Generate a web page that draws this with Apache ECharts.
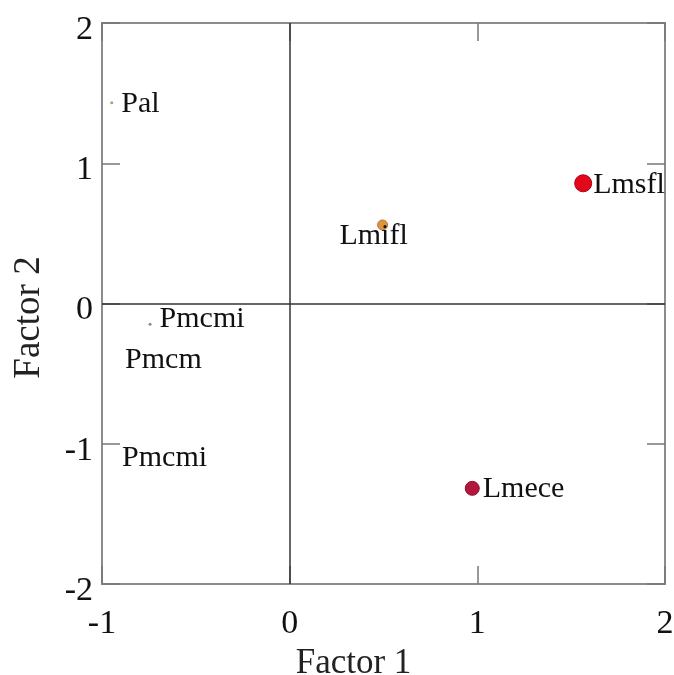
<!DOCTYPE html>
<html>
<head>
<meta charset="utf-8">
<script src="https://cdn.jsdelivr.net/npm/echarts@6/dist/echarts.min.js"></script>
<style>html,body{margin:0;padding:0;background:#fff;}#c{width:674px;height:675px;}</style>
</head>
<body>
<div id="c"></div>
<script>
var pointNames = ['Pal', 'Pmcmi', 'Pmcm', 'Pmcmi', 'Lmifl', 'Lmsfl', 'Lmece'];
var factor1 = [-0.948, -0.744, -0.877, -0.893, 0.495, 1.564, 0.973];
var factor2 = [1.432, -0.148, -0.403, -1.102, 0.56, 0.857, -1.318];
var xTicks = [-1, 0, 1, 2];
var yTicks = [-2, -1, 0, 1, 2];

var styles = [
  {size: 3, color: '#a3a36a', border: '#a3a36a', pos: 'right', dist: 8, off: [0, 1]},
  {size: 3, color: '#888888', border: '#888888', pos: 'right', dist: 8, off: [0, -5]},
  {size: 0, color: 'transparent', border: 'transparent', pos: 'right', dist: 0, off: [0, 0]},
  {size: 0, color: 'transparent', border: 'transparent', pos: 'right', dist: 0, off: [0, 0]},
  {size: 10, color: '#dc9442', border: '#b8752e', pos: 'inside', dist: 0, off: [-9, 11]},
  {size: 17, color: '#e2081a', border: '#b00012', pos: 'right', dist: 1, off: [0, 2]},
  {size: 14, color: '#b5163e', border: '#8e0f2e', pos: 'right', dist: 3, off: [0, 1]}
];

var data = pointNames.map(function (n, i) {
  var s = styles[i];
  return {
    name: n,
    value: [factor1[i], factor2[i]],
    symbolSize: s.size,
    itemStyle: {color: s.color, borderColor: s.border, borderWidth: s.size > 5 ? 1 : 0, opacity: 1},
    label: {show: true, formatter: n, position: s.pos, distance: s.dist, offset: s.off}
  };
});

var serif = 'Liberation Serif';
var chart = echarts.init(document.getElementById('c'));
var tickStyle = {show: true, inside: true, length: 18, lineStyle: {color: '#777', width: 1.5}};
chart.setOption({
  animation: false,
  backgroundColor: '#fff',
  grid: {left: 102, right: 9, top: 23, bottom: 91, containLabel: false, outerBoundsMode: 'none',
         show: true, borderColor: '#8c8c8c', borderWidth: 2},
  xAxis: [{
    type: 'value', min: xTicks[0], max: xTicks[xTicks.length - 1], interval: 1,
    position: 'bottom',
    name: 'Factor 1', nameLocation: 'middle', nameGap: 60,
    nameTextStyle: {fontFamily: serif, fontSize: 35, color: '#222', padding: [0, 60, 0, 0]},
    axisLine: {show: false, onZero: false},
    axisTick: tickStyle,
    axisLabel: {fontFamily: serif, fontSize: 34, color: '#111', margin: 23},
    splitLine: {show: false}
  }, {
    type: 'value', min: xTicks[0], max: xTicks[xTicks.length - 1], interval: 1,
    position: 'top',
    axisLine: {show: false, onZero: false}, axisTick: tickStyle, axisLabel: {show: false}, splitLine: {show: false}
  }],
  yAxis: [{
    type: 'value', min: yTicks[0], max: yTicks[yTicks.length - 1], interval: 1,
    position: 'left',
    name: 'Factor 2', nameLocation: 'middle', nameGap: 54,
    nameTextStyle: {fontFamily: serif, fontSize: 37, color: '#222', padding: [0, 28, 0, 0]},
    axisLine: {show: false, onZero: false},
    axisTick: tickStyle,
    axisLabel: {
      margin: 9,
      formatter: function (v) { return '{t|' + v + '}'; },
      rich: {t: {fontFamily: serif, fontSize: 34, color: '#111', padding: [14, 0, 0, 0]}}
    },
    splitLine: {show: false}
  }, {
    type: 'value', min: yTicks[0], max: yTicks[yTicks.length - 1], interval: 1,
    position: 'right',
    axisLine: {show: false, onZero: false}, axisTick: tickStyle, axisLabel: {show: false}, splitLine: {show: false}
  }],
  series: [{
    type: 'scatter',
    data: data,
    label: {fontFamily: serif, fontSize: 30, color: '#111', opacity: 1},
    markLine: {
      silent: true, symbol: 'none', label: {show: false},
      lineStyle: {color: '#333', width: 1.5, type: 'solid', opacity: 1},
      data: [{xAxis: 0}, {yAxis: 0}]
    },
    z: 3
  }]
});
</script>
</body>
</html>
